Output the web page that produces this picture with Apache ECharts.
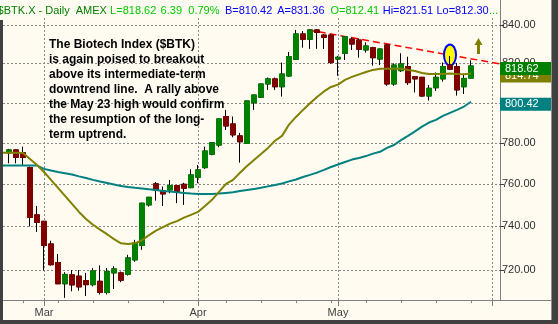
<!DOCTYPE html>
<html>
<head>
<meta charset="utf-8">
<script src="https://cdn.jsdelivr.net/npm/echarts@6.0.0/dist/echarts.min.js"></script>
<style>
html,body{margin:0;padding:0;background:#FFFBF0;overflow:hidden;}
#chart{width:558px;height:324px;}
</style>
</head>
<body>
<div id="chart"></div>
<script>
// ---------------- DATA (trading-day index, 0 = 1 Mar 2007) ----------------
const dayIdx = [-5,-4,-3,-2,-1,0,1,2,3,4,5,6,7,8,9,10,11,12,13,14,15,16,17,18,19,20,
  21,22,23,24,25,26,27,28,29,30,31,32,33,34,35,36,37,38,39,40,41,42,43,44,45,46,47,48,
  49,50,51,52,53,54,55,56,57,58,59,60,61];
const openV = [775.1,776.5,775.1,767.9,745.4,
  742.4,731.9,723.4,713.8,717.8,717.2,715.2,713.4,714.9,709.9,
  718.7,718.7,718.1,724.6,731.2,750.1,760.1,756.7,757.2,759.3,
  759.9,758.3,763.3,767.9,774.4,778.9,793.0,789.3,783.4,779.7,
  799.9,802.7,809.4,812.0,808.0,813.5,822.1,835.3,832.5,837.4,
  834.7,834.7,822.2,825.2,832.6,832.1,826.9,828.1,822.2,829.5,
  809.4,816.2,818.3,813.1,812.8,803.3,807.5,812.0,819.1,818.3,
  808.0,812.41];
const closeV = [776.5,772.9,772.9,744.3,741.9,
  731.2,722.4,713.8,718.0,713.3,712.4,713.4,719.6,709.9,719.3,
  720.5,715.4,725.5,732.3,750.9,753.7,757.2,755.3,759.3,756.4,
  758.0,764.4,766.8,776.0,780.0,791.8,788.3,783.9,780.5,800.8,
  803.8,809.4,812.0,808.0,814.5,823.4,835.3,832.5,837.4,836.1,
  833.5,820.4,823.1,833.8,830.0,827.3,829.0,822.9,827.4,809.4,
  819.1,819.7,810.1,812.0,803.3,807.2,812.8,818.3,817.0,806.4,
  812.23,818.62];
const lowV = [770.0,770.0,769.2,740.0,737.4,
  719.8,722.0,713.6,707.5,710.4,710.7,708.3,712.6,709.0,709.0,
  711.4,714.5,717.5,723.7,729.2,749.3,752.1,749.6,755.6,750.9,
  750.1,758.0,760.4,767.3,773.9,777.8,786.3,782.7,770.3,779.4,
  796.3,802.3,806.4,806.4,803.0,813.1,821.7,828.1,827.5,827.5,
  827.4,819.7,813.6,821.7,826.9,822.9,825.5,818.8,819.1,808.5,
  808.5,815.5,808.9,805.1,803.0,801.0,805.9,810.6,816.5,803.5,
  804.3,812.30];
const highV = [777.0,776.8,778.1,768.5,749.6,
  742.6,733.4,727.3,719.0,720.0,720.0,718.7,720.9,722.1,720.9,
  721.7,719.3,726.9,733.8,751.2,753.9,761.0,758.8,762.0,759.6,
  760.6,767.1,769.2,778.1,780.3,792.0,796.3,793.0,784.9,801.0,
  804.0,809.6,812.7,812.7,820.4,825.9,837.4,836.8,837.7,837.9,
  835.3,835.3,823.8,834.2,833.5,833.0,830.9,828.6,827.8,830.0,
  820.0,825.2,823.4,813.2,813.0,808.9,815.3,820.4,823.8,820.2,
  814.0,821.51];

// moving averages, index -6 .. 61
const maIdx = [-6].concat(dayIdx);
const ma20 = [775.1,775.1,775.1,775.0,772.1,769.2,
  765.8,762.0,758.2,754.4,750.6,746.8,743.5,740.8,738.5,736.4,
  734.1,732.2,731.9,732.2,733.6,736.0,738.1,739.7,741.3,742.5,
  744.1,745.4,746.8,749.6,752.5,756.3,760.1,762.0,765.4,768.7,
  771.6,774.5,777.5,781.0,783.4,789.0,792.8,796.3,799.6,802.8,
  805.6,807.9,809.1,811.5,813.0,814.3,815.5,816.6,817.2,817.2,
  817.2,817.3,816.6,816.0,815.0,814.5,814.5,814.5,814.74,814.5,
  814.4,814.74];
const ma50 = [768.9,768.9,768.9,768.9,768.9,768.9,
  767.3,766.5,765.8,765.2,764.6,763.7,762.9,762.0,761.2,760.5,
  759.8,759.1,758.6,758.2,757.9,757.5,757.2,756.7,756.5,756.1,
  755.8,755.5,755.3,755.3,755.3,755.5,755.8,756.1,756.7,757.2,
  757.7,758.2,758.9,759.6,760.3,761.3,762.2,763.4,764.4,765.5,
  766.8,768.2,769.4,770.6,771.8,772.6,773.5,774.7,775.6,777.5,
  778.9,781.3,783.4,785.6,788.0,790.0,791.3,793.3,794.8,796.3,
  798.0,800.42];

const yTicks = [720, 740, 760, 780, 800, 820, 840];
const weekTickIdx = [-3, 2, 7, 12, 17, 22, 26, 31, 36, 41, 46, 51, 56, 61];
const monthTickIdx = [0, 22, 42, 64];
const monthLabelIdx = [0, 22, 42];
const monthLabels = ['Mar', 'Apr', 'May'];

const trendIdx = [37.7, 65.14];
const trendVal = [837.4, 819.7];
const highlightPoint = [58, 824.3];
const arrowPoint = [62.07, 829.0];

const headerTexts  = ['$BTK.X - Daily', 'AMEX', 'L=818.62', '6.39', '0.79%', 'B=810.42', 'A=831.36', 'O=812.41', 'Hi=821.51', 'Lo=812.30', '...'];
const headerColors = ['#008000', '#008000', '#00c800', '#00c800', '#00c800', '#0000ff', '#0000ff', '#00c800', '#0000ff', '#0000ff', '#00c800'];
const headerX      = [-2.4, 75.7, 110.1, 160.6, 188.3, 224.9, 277.2, 330.5, 382.7, 436.4, 489];

const noteLines = [
  'The Biotech Index ($BTK)',
  'is again poised to breakout',
  'above its intermediate-term',
  'downtrend line.  A rally above',
  'the May 23 high would confirm',
  'the resumption of the long-',
  'term uptrend.'
];

// ---------------- CHART ----------------
const X_MIN = -5.857, X_MAX = 65.143, Y_MIN = 706.54, Y_MAX = 843.71;
const FONT = "Arial, 'Liberation Sans', sans-serif";

const chart = echarts.init(document.getElementById('chart'), null, {renderer: 'canvas', width: 558, height: 324});

const option = {
  backgroundColor: '#FFFBF0',
  animation: false,
  grid: {left: 3, right: 58, top: 18, bottom: 24, containLabel: false},
  xAxis: [
    {
      type: 'value', min: X_MIN, max: X_MAX, position: 'bottom',
      axisLine: {show: true, onZero: false, lineStyle: {color: '#808080', width: 1}},
      axisTick: {show: true, customValues: weekTickIdx, length: 3, lineStyle: {color: '#808080'}},
      axisLabel: {show: false},
      splitLine: {show: false}
    },
    {
      type: 'value', min: X_MIN, max: X_MAX, position: 'bottom', gridIndex: 0,
      axisLine: {show: false, onZero: false},
      axisTick: {show: true, customValues: monthTickIdx, length: 6, lineStyle: {color: '#808080'}},
      axisLabel: {
        show: true, customValues: monthLabelIdx, margin: 7, color: '#404040',
        fontSize: 11, fontFamily: FONT,
        formatter: function (v) { const k = monthLabelIdx.indexOf(Math.round(v)); return k >= 0 ? monthLabels[k] : ''; }
      },
      splitLine: {show: false}
    }
  ],
  yAxis: {
    type: 'log', logBase: 10, min: Y_MIN, max: Y_MAX, position: 'right',
    axisLine: {show: true, onZero: false, lineStyle: {color: '#808080'}},
    axisTick: {show: true, customValues: yTicks, length: 4, lineStyle: {color: '#404040'}},
    axisLabel: {
      show: true, customValues: yTicks, margin: 2, color: '#303030',
      fontSize: 11, fontFamily: FONT,
      formatter: function (v) { return Number(v).toFixed(2); }
    },
    splitLine: {show: false}
  },
  series: [
    {
      name: 'trend', type: 'line', xAxisIndex: 0, yAxisIndex: 0,
      data: trendIdx.map(function (x, k) { return [x, trendVal[k]]; }),
      symbol: 'none', silent: true, z: 2,
      lineStyle: {color: '#ff0000', width: 1.5, type: [7, 4]}
    },
    {
      name: 'wicks', type: 'candlestick', xAxisIndex: 0, yAxisIndex: 0,
      data: dayIdx.map(function (x, k) { return [x, openV[k], closeV[k], lowV[k], highV[k]]; }),
      encode: {x: 0, y: [1, 2, 3, 4]},
      barWidth: 5, silent: true, z: 4,
      itemStyle: {color: '#000', color0: '#000', borderColor: '#000', borderColor0: '#000', borderWidth: 1}
    },
    {
      name: 'bodies', type: 'candlestick', xAxisIndex: 0, yAxisIndex: 0,
      data: dayIdx.map(function (x, k) {
        return [x, openV[k], closeV[k], Math.min(openV[k], closeV[k]), Math.max(openV[k], closeV[k])];
      }),
      encode: {x: 0, y: [1, 2, 3, 4]},
      barWidth: 5, silent: true, z: 5,
      itemStyle: {color: '#008000', color0: '#800000', borderColor: '#008000', borderColor0: '#800000', borderWidth: 1}
    },
    {
      name: 'ma50', type: 'line', xAxisIndex: 0, yAxisIndex: 0,
      data: maIdx.map(function (x, k) { return [x, ma50[k]]; }),
      symbol: 'none', silent: true, z: 6,
      lineStyle: {color: '#008080', width: 2}
    },
    {
      name: 'ma20', type: 'line', xAxisIndex: 0, yAxisIndex: 0,
      data: maIdx.map(function (x, k) { return [x, ma20[k]]; }),
      symbol: 'none', silent: true, z: 6,
      lineStyle: {color: '#808000', width: 2}
    }
  ]
};
chart.setOption(option);

// ---------------- overlay elements positioned through the axes ----------------
const g = [];
const px = function (p) { return chart.convertToPixel({gridIndex: 0}, p); };
const py = function (v) { return chart.convertToPixel({yAxisIndex: 0}, v); };
const pxX = function (i) { return chart.convertToPixel({xAxisIndex: 0}, i); };

// dotted grid lines at the axis tick positions (pixel-snapped for crisp dots)
const gx0 = pxX(X_MIN), gx1 = pxX(X_MAX), gy0 = py(Y_MAX), gy1 = py(Y_MIN);
yTicks.forEach(function (v) {
  const y = Math.round(py(v)) + 0.5;
  g.push({type: 'line', shape: {x1: gx0, y1: y, x2: gx1, y2: y},
    style: {stroke: '#8a8a8a', lineWidth: 1, lineDash: [2, 2]}, z: 1, silent: true});
});
monthTickIdx.forEach(function (i) {
  const x = Math.round(pxX(i)) + 0.5;
  g.push({type: 'line', shape: {x1: x, y1: gy0, x2: x, y2: gy1},
    style: {stroke: '#8a8a8a', lineWidth: 1, lineDash: [2, 2]}, z: 1, silent: true});
});

// highlight ellipse at the May 23 high
const e = px(highlightPoint);
g.push({type: 'ellipse', shape: {cx: e[0], cy: e[1], rx: 6, ry: 10.5},
  style: {fill: '#ffff00', stroke: '#0000ff', lineWidth: 2}, z: 3, silent: true});

// up arrow
const a = px(arrowPoint);
g.push({type: 'polygon', shape: {points: [
  [a[0], a[1] - 8], [a[0] + 4, a[1] - 1], [a[0] + 1.5, a[1] - 1], [a[0] + 1.5, a[1] + 8],
  [a[0] - 1.5, a[1] + 8], [a[0] - 1.5, a[1] - 1], [a[0] - 4, a[1] - 1]]},
  style: {fill: '#808000'}, z: 7, silent: true});

// last-value boxes on the price axis
const last = closeV.length - 1, lastMa = ma20.length - 1;
const boxes = [
  [ma20[lastMa], '#808000', 10],
  [closeV[last], '#008000', 12],
  [ma50[lastMa], '#008080', 10]
];
boxes.forEach(function (b) {
  const y = py(b[0]);
  g.push({type: 'rect', shape: {x: 500, y: y - 4, width: 52, height: 13}, style: {fill: b[1]}, z: b[2], silent: true});
  g.push({type: 'text', x: 505, y: y + 2.5, style: {text: b[0].toFixed(2), fill: '#ffffff', font: '11px ' + FONT, verticalAlign: 'middle'}, z: b[2] + 1, silent: true});
});

// axis line extensions
g.push({type: 'line', shape: {x1: 500.5, y1: 0, x2: 500.5, y2: 18}, style: {stroke: '#808080', lineWidth: 1}, z: 1, silent: true});
g.push({type: 'line', shape: {x1: 500, y1: 300.5, x2: 552, y2: 300.5}, style: {stroke: '#808080', lineWidth: 1}, z: 1, silent: true});

// header
headerTexts.forEach(function (t, k) {
  g.push({type: 'text', x: headerX[k], y: 11.3, style: {text: t, fill: headerColors[k], font: '11px ' + FONT, verticalAlign: 'middle'}, z: 10, silent: true});
});

// annotation
noteLines.forEach(function (t, k) {
  g.push({type: 'text', x: 49, y: 44.5 + 15 * k, style: {text: t, fill: '#000000', font: 'bold 12px ' + FONT, verticalAlign: 'middle'}, z: 10, silent: true});
});

// frame
g.push({type: 'rect', shape: {x: 0, y: 20, width: 3, height: 304}, style: {fill: '#404040'}, z: 20, silent: true});
g.push({type: 'rect', shape: {x: 551, y: 0, width: 1, height: 324}, style: {fill: '#909090'}, z: 20, silent: true});
g.push({type: 'rect', shape: {x: 552, y: 0, width: 6, height: 324}, style: {fill: '#404040'}, z: 20, silent: true});
g.push({type: 'rect', shape: {x: 0, y: 320, width: 558, height: 4}, style: {fill: '#404040'}, z: 20, silent: true});

chart.setOption({graphic: g});
</script>
</body>
</html>
